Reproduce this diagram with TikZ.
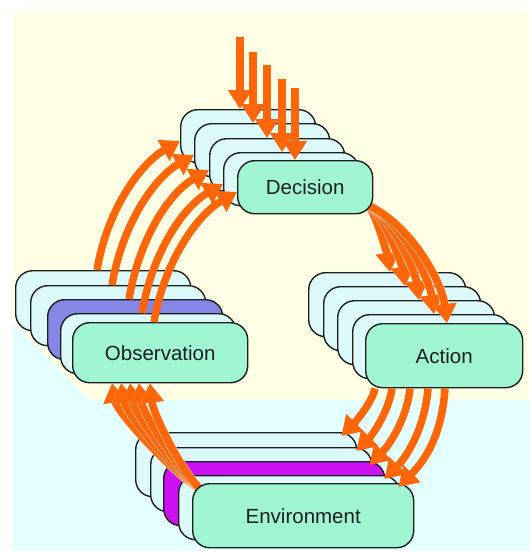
\documentclass[tikz,border=0pt]{standalone}
\usepackage{fontspec}
\setmainfont{Liberation Sans}
\usetikzlibrary{arrows.meta,calc}
\definecolor{bgyellow}{HTML}{FFFFE6}
\definecolor{bgcyan}{HTML}{E3FFFF}
\definecolor{frontfill}{HTML}{A0F5D2}
\definecolor{backfill}{HTML}{DCFAFA}
\definecolor{bluefill}{HTML}{8686E6}
\definecolor{magfill}{HTML}{CC11F2}
\definecolor{arrorange}{HTML}{FF6608}
\definecolor{edge}{HTML}{1E1E1E}

\begin{document}
\begin{tikzpicture}[x=1pt,y=-1pt,
  card/.style={draw=edge, line width=1.4pt, rounded corners=17pt, anchor=north west,
    inner sep=0pt, font=\fontsize{20.5}{24}\selectfont, text=edge},
  backcard/.style={card, fill=backfill},
  frontcard/.style={card, fill=frontfill},
  deccard/.style={minimum width=135pt, minimum height=53pt},
  obscard/.style={minimum width=175pt, minimum height=60pt},
  actcard/.style={minimum width=157pt, minimum height=64pt},
  envcard/.style={minimum width=221pt, minimum height=64pt},
  flow/.style={draw=arrorange, line width=7.5pt, -{Triangle[length=19pt,width=23pt]}},
  bundle/.style={flow, preaction={draw=white!70!arrorange, line width=8.6pt,
    -{Triangle[length=19pt,width=23pt]}}}
]
\useasboundingbox (0,0) rectangle (530,554);

% backgrounds
\fill[bgcyan] (13,320) rectangle (530,550);
\fill[bgyellow] (13,11) -- (530,11) -- (530,400) -- (90,400) -- (13,322) -- cycle;

% stacks behind the front cards
\node[backcard, deccard] (d1) at (180,109) {};
\node[backcard, deccard] (d2) at (194,123) {};
\node[backcard, deccard] (d3) at (209,138) {};
\node[backcard, deccard] (d4) at (223,152) {};

\node[backcard, obscard] (o1) at (15,270) {};
\node[backcard, obscard] (o2) at (30,285) {};
\node[backcard, obscard, fill=bluefill] (o3) at (47,299) {};
\node[backcard, obscard] (o4) at (60,313) {};
\node[frontcard, obscard] (o5) at (72,322) {Observation};

\node[backcard, actcard] (a1) at (308,272) {};
\node[backcard, actcard] (a2) at (323,286) {};
\node[backcard, actcard] (a3) at (337,300) {};
\node[backcard, actcard] (a4) at (352,314) {};
\node[frontcard, actcard] (a5) at (365,323) {Action};

\node[backcard, envcard] (e1) at (135,432) {};
\node[backcard, envcard] (e2) at (150,447) {};
\node[backcard, envcard, fill=magfill] (e3) at (163,461) {};
\node[backcard, envcard] (e4) at (178,475) {};

% bundles that leave from under a front card
\coordinate (envcorner) at ($(e4.north west)+(22,14)$);
\coordinate (deccorner) at ($(d4.north west)+(144,53)$);
\foreach \k/\ex in {1/40, 2/49, 3/58, 4/67, 5/78} {
  \draw[bundle] (envcorner)
    .. controls +({-27.5+1.5*\k},{-13.75-1.25*\k}) and +({5.5-0.5*\k},{28.75+0.25*\k})
    .. ($(o5.south west)+(\ex,0)$);
}
\foreach \k in {1,...,5} {
  \draw[bundle] (deccorner)
    .. controls +({9*\k},{4*\k}) and +({-1*\k},{-8*\k})
    .. ($(a\k.north west)+(82,0)$);
}

% front cards
\node[frontcard, deccard] (d5) at (237,160) {Decision};
\node[frontcard, envcard] (e5) at (192,483) {Environment};

% incoming arrows at the top
\foreach \k/\x/\y in {1/240/37, 2/253/52, 3/267/65, 4/282/79, 5/295/88} {
  \coordinate (in\k) at (\x,\y);
  \draw[flow] (in\k) -- (in\k |- d\k.north);
}

% observation to decision
\foreach \k in {1,...,5} {
  \draw[flow] ($(o\k.north west)+(82,0)$)
    .. controls +(10,-60) and +(-40,23) .. ($(d\k.north west)+(0,32)$);
}

% action to environment
\foreach \k/\sx in {1/10, 2/27, 3/45, 4/63, 5/80} {
  \draw[flow] ($(a5.south west)+(\sx,0)$)
    .. controls +(-3,{7.5*\k+7.5}) and +({4*\k+8},{-4*\k-8})
    .. ($(e\k.north east)+(-16,4)$);
}
\end{tikzpicture}
\end{document}
